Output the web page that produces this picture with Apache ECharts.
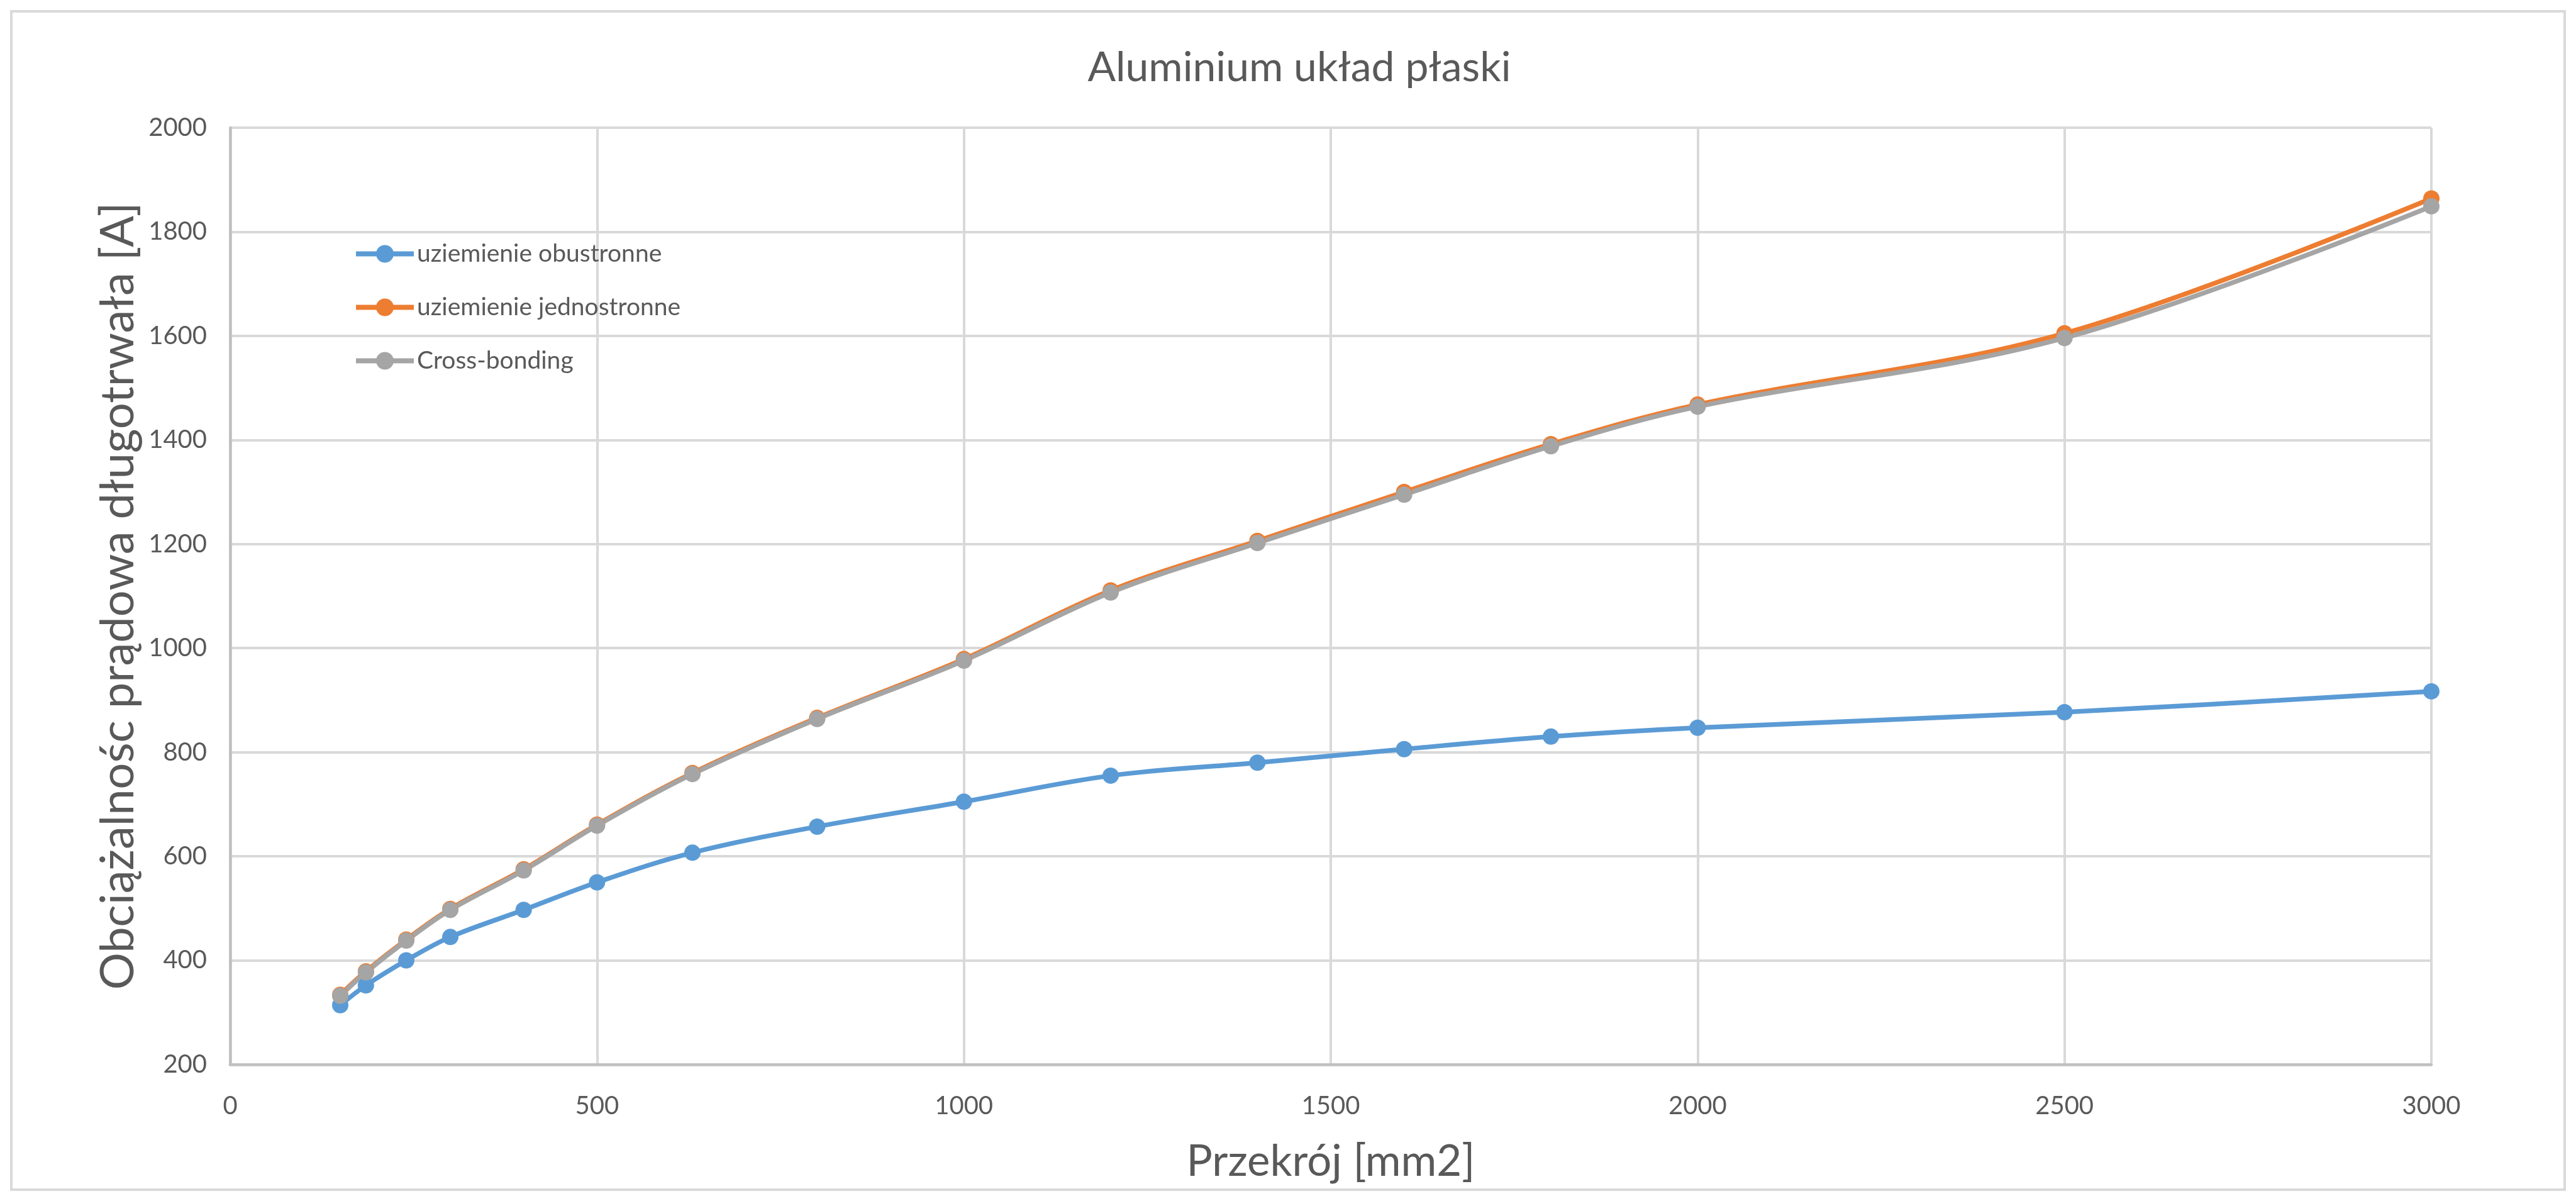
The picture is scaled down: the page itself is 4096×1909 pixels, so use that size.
<!DOCTYPE html>
<html>
<head>
<meta charset="utf-8">
<script src="https://cdn.jsdelivr.net/npm/echarts@6/dist/echarts.min.js"></script>
<style>
html,body{margin:0;padding:0;background:#fff;}
#chart{width:4096px;height:1909px;}
</style>
</head>
<body>
<div id="chart"></div>
<script>
// Data
var sizes = [150, 185, 240, 300, 400, 500, 630, 800, 1000, 1200, 1400, 1600, 1800, 2000, 2500, 3000];
var obustronne = [314, 352, 400, 445, 497, 550, 607, 657, 705, 755, 780, 806, 830, 847, 877, 917];
var jednostronne = [334, 379, 440, 499, 575, 661, 760, 866, 979, 1111, 1206, 1300, 1392, 1468, 1605, 1864];
var crossBonding = [332, 377, 438, 497, 573, 659, 758, 864, 976, 1107, 1202, 1295, 1388, 1464, 1596, 1849];
var seriesNames = ['uziemienie obustronne', 'uziemienie jednostronne', 'Cross-bonding'];
var titleText = 'Aluminium układ płaski';
var xName = 'Przekrój [mm2]';
var yName = 'Obciążalnośc prądowa długotrwała [A]';

function pairs(xs, ys) { return xs.map(function (x, i) { return [x, ys[i]]; }); }

var FONT = 'Lato, "Open Sans", sans-serif';
var TXT = '#595959';
var colors = ['#5b9bd5', '#ed7d31', '#a5a5a5'];

function lineSeries(name, data, color) {
  return {
    name: name, type: 'line', data: data, smooth: 0.35,
    symbol: 'circle', symbolSize: 26,
    lineStyle: { color: color, width: 7.5 },
    itemStyle: { color: color },
    emphasis: { disabled: true }
  };
}

var chart = echarts.init(document.getElementById('chart'), null, { renderer: 'canvas' });
chart.setOption({
  animation: false,
  backgroundColor: '#fff',
  color: colors,
  graphic: [
    { type: 'rect', shape: { x: 18, y: 18, width: 4060, height: 1873 }, style: { fill: 'none', stroke: '#d9d9d9', lineWidth: 4 }, z: -1 },
    { type: 'text', x: 2066, y: 108, style: { text: titleText, font: '66px ' + FONT, fill: TXT, align: 'center', verticalAlign: 'middle' } }
  ],
  legend: {
    orient: 'vertical', left: 557, top: 379,
    itemWidth: 92, itemHeight: 35, itemGap: 46,
    data: seriesNames,
    lineStyle: { width: 8 },
    textStyle: { fontFamily: FONT, fontSize: 39, color: TXT, padding: [0, 0, 0, 0], lineHeight: 35 }
  },
  grid: { left: 366, right: 230, top: 203, bottom: 217, containLabel: false },
  xAxis: {
    type: 'value', min: 0, max: 3000, interval: 500,
    name: xName, nameLocation: 'middle', nameGap: 120,
    nameTextStyle: { fontFamily: FONT, fontSize: 69, color: TXT },
    axisLine: { show: true, lineStyle: { color: '#bfbfbf', width: 4.5 } },
    axisTick: { show: false },
    axisLabel: { fontFamily: FONT, fontSize: 40, color: TXT, margin: 46, formatter: function (v) { return String(v); } },
    splitLine: { show: true, lineStyle: { color: '#d9d9d9', width: 4 } }
  },
  yAxis: {
    type: 'value', min: 200, max: 2000, interval: 200,
    name: yName, nameLocation: 'middle', nameGap: 134,
    nameTextStyle: { fontFamily: FONT, fontSize: 74, color: TXT },
    axisLine: { show: true, lineStyle: { color: '#bfbfbf', width: 4.5 } },
    axisTick: { show: false },
    axisLabel: { fontFamily: FONT, fontSize: 40, color: TXT, margin: 37, formatter: function (v) { return String(v); } },
    splitLine: { show: true, lineStyle: { color: '#d9d9d9', width: 4 } }
  },
  series: [
    lineSeries(seriesNames[0], pairs(sizes, obustronne), colors[0]),
    lineSeries(seriesNames[1], pairs(sizes, jednostronne), colors[1]),
    lineSeries(seriesNames[2], pairs(sizes, crossBonding), colors[2])
  ]
});
</script>
</body>
</html>
